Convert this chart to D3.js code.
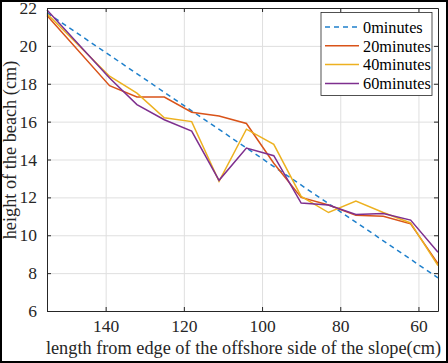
<!DOCTYPE html>
<html>
<head>
<meta charset="utf-8">
<script src="https://cdn.jsdelivr.net/npm/d3@7"></script>
<style>
  body { margin: 0; background: #fff; }
  svg { display: block; }
  .axis text { font-family: "Liberation Serif", "Times New Roman", serif; font-size: 17.5px; fill: #262626; }
  .axis path, .axis line { stroke: #262626; }
  .grid line { stroke: #dfdfdf; }
  .grid path { stroke: none; }
  .title { font-family: "Liberation Serif", "Times New Roman", serif; font-size: 18.3px; fill: #262626; }
  .legend text { font-family: "Liberation Serif", "Times New Roman", serif; font-size: 16.3px; fill: #000; }
</style>
</head>
<body>
<div id="chart"></div>
<script>
// data
const lengths = [155, 139, 132, 125, 118, 111, 104, 97, 90, 83, 76, 69, 62, 55];
const min0Lengths = [155, 55];
const min0 = [21.75, 7.75];
const min20 = [21.6, 17.9, 17.3, 17.3, 16.5, 16.3, 15.9, 13.8, 12.0, 11.6, 11.05, 11.0, 10.6, 8.5];
const min40 = [21.7, 18.4, 17.5, 16.2, 16.0, 12.85, 15.6, 14.8, 12.05, 11.2, 11.8, 11.2, 10.65, 8.4];
const min60 = [21.9, 18.3, 16.9, 16.1, 15.5, 12.9, 14.6, 14.2, 11.7, 11.6, 11.1, 11.15, 10.8, 9.1];
const seriesNames = ["0minutes", "20minutes", "40minutes", "60minutes"];
const xTicks = [140, 120, 100, 80, 60];
const yTicks = [6, 8, 10, 12, 14, 16, 18, 20, 22];

const W = 448, H = 363;
const margin = { top: 8, right: 10, bottom: 52, left: 47 };
const width = W - margin.left - margin.right;
const height = H - margin.top - margin.bottom;

const colors = ["#1f80cc", "#d95319", "#edb120", "#7e2f8e"];

const series = [
  { name: seriesNames[0], xs: min0Lengths, ys: min0, dash: "5,4" },
  { name: seriesNames[1], xs: lengths, ys: min20 },
  { name: seriesNames[2], xs: lengths, ys: min40 },
  { name: seriesNames[3], xs: lengths, ys: min60 }
];

const svg = d3.select("#chart").append("svg")
  .attr("width", W)
  .attr("height", H);

// outer frame of the figure
svg.append("rect")
  .attr("x", 1).attr("y", 1)
  .attr("width", W - 2).attr("height", H - 2)
  .attr("fill", "none")
  .attr("stroke", "#000")
  .attr("stroke-width", 2);

const g = svg.append("g")
  .attr("transform", `translate(${margin.left},${margin.top})`);

const x = d3.scaleLinear().domain([155, 55]).range([0, width]);
const y = d3.scaleLinear().domain([6, 22]).range([height, 0]);

// grid
g.append("g").attr("class", "grid")
  .attr("transform", `translate(0,${height})`)
  .call(d3.axisBottom(x).tickValues(xTicks).tickSize(-height).tickFormat(""));
g.append("g").attr("class", "grid")
  .call(d3.axisLeft(y).tickValues(yTicks).tickSize(-width).tickFormat(""));

// lines
const line = d3.line()
  .x(d => x(d[0]))
  .y(d => y(d[1]));

series.forEach((s, i) => {
  g.append("path")
    .datum(s.xs.map((v, j) => [v, s.ys[j]]))
    .attr("fill", "none")
    .attr("stroke", colors[i])
    .attr("stroke-width", 1.5)
    .attr("stroke-dasharray", s.dash || null)
    .attr("d", line);
});

// axes, ticks pointing inward
g.append("g").attr("class", "axis")
  .attr("transform", `translate(0,${height})`)
  .call(d3.axisBottom(x).tickValues(xTicks).tickSize(-4).tickPadding(9).tickSizeOuter(0));
g.append("g").attr("class", "axis")
  .call(d3.axisLeft(y).tickValues(yTicks).tickSize(-4).tickPadding(10).tickSizeOuter(0));
g.append("g").attr("class", "axis")
  .call(d3.axisTop(x).tickValues(xTicks).tickSize(-4).tickFormat("").tickSizeOuter(0));
g.append("g").attr("class", "axis")
  .attr("transform", `translate(${width},0)`)
  .call(d3.axisRight(y).tickValues(yTicks).tickSize(-4).tickFormat("").tickSizeOuter(0));

// axis titles
svg.append("text").attr("class", "title")
  .attr("x", margin.left + width / 2 + 1)
  .attr("y", 354)
  .attr("text-anchor", "middle")
  .text("length from edge of the offshore side of the slope(cm)");

svg.append("text").attr("class", "title")
  .attr("transform", "translate(16,150) rotate(-90)")
  .attr("text-anchor", "middle")
  .text("height of the beach (cm)");

// legend
const legend = svg.append("g").attr("class", "legend")
  .attr("transform", "translate(321,12.5)");
legend.append("rect")
  .attr("width", 111).attr("height", 83)
  .attr("fill", "#fff")
  .attr("stroke", "#262626")
  .attr("stroke-width", 0.8);

series.forEach((s, i) => {
  const ly = 14.5 + i * 18.8;
  legend.append("line")
    .attr("x1", 4).attr("x2", 38)
    .attr("y1", ly).attr("y2", ly)
    .attr("stroke", colors[i])
    .attr("stroke-width", 1.5)
    .attr("stroke-dasharray", s.dash || null);
  legend.append("text")
    .attr("x", 42)
    .attr("y", ly)
    .attr("dy", "0.35em")
    .text(s.name);
});
</script>
</body>
</html>
